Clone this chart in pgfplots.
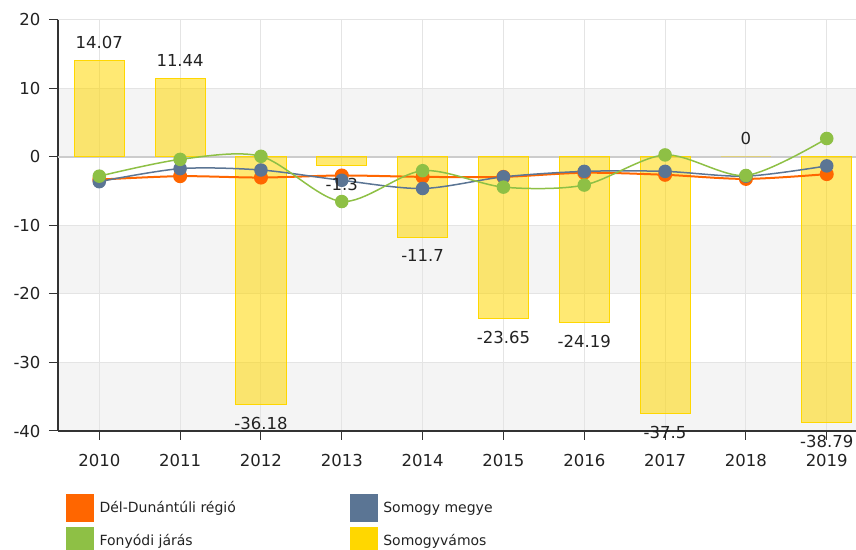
\documentclass[border=0pt]{standalone}
\usepackage{pgfplots}
\pgfplotsset{compat=1.18}
\usepackage{pgfplotstable}
\usepackage{fontspec}
\setmainfont{DejaVu Sans}
\definecolor{cOrange}{HTML}{FF6600}
\definecolor{cBlue}{HTML}{5B7594}
\definecolor{cGreen}{HTML}{8EC045}
\definecolor{cGold}{HTML}{FFD700}
\definecolor{cGrid}{HTML}{E4E4E4}
\definecolor{cBand}{HTML}{F4F4F4}
\definecolor{cAxis}{HTML}{333333}
\definecolor{cText}{HTML}{222222}
\definecolor{cZero}{HTML}{CCCCCC}

\pgfplotstableread{
x y label
0 14.07 14.07
1 11.44 11.44
2 -36.18 -36.18
3 -1.3 -1.3
4 -11.7 -11.7
5 -23.65 -23.65
6 -24.19 -24.19
7 -37.5 -37.5
8 0 0
9 -38.79 -38.79
}\barsdata

\begin{document}
\begin{tikzpicture}
\begin{axis}[
  set layers,
  scale only axis, width=798pt, height=411pt,
  xmin=-0.511, xmax=9.362, ymin=-40, ymax=20,
  clip=false,
  axis lines=left,
  axis line style={-, cAxis, line width=1.5pt},
  xtick={0,...,9},
  xticklabels={2010,2011,2012,2013,2014,2015,2016,2017,2018,2019},
  ytick={-40,-30,-20,-10,0,10,20},
  tick align=outside, major tick length=9pt,
  tick style={cAxis, line width=1pt},
  grid=major, major grid style={cGrid, line width=1pt},
  /pgf/number format/assume math mode=true,
  tick label style={font=\fontsize{16.5}{20}\selectfont, text=cText},
  xticklabel style={yshift=-11pt},
  yticklabel style={xshift=-5pt},
  legend columns=2,
  legend cell align=left,
  legend style={at={(0,0)}, anchor=north west, xshift=8pt, yshift=-63pt,
    draw=none, fill=none, inner sep=0pt,
    font=\fontsize{14}{17}\selectfont, text=cText, row sep=5pt,
    /tikz/every odd column/.append style={column sep=4pt},
    /tikz/every even column/.append style={column sep=112pt}},
]
\begin{pgfonlayer}{axis background}
\fill[cBand] (axis cs:-0.511,0) rectangle (axis cs:9.362,10);
\fill[cBand] (axis cs:-0.511,-20) rectangle (axis cs:9.362,-10);
\fill[cBand] (axis cs:-0.511,-40) rectangle (axis cs:9.362,-30);
\end{pgfonlayer}

\addlegendimage{legend image code/.code={\fill[cOrange] (0pt,-13.5pt) rectangle (27pt,13.5pt);}}
\addlegendentry{Dél-Dunántúli régió}
\addlegendimage{legend image code/.code={\fill[cBlue] (0pt,-13.5pt) rectangle (27pt,13.5pt);}}
\addlegendentry{Somogy megye}
\addlegendimage{legend image code/.code={\fill[cGreen] (0pt,-13.5pt) rectangle (27pt,13.5pt);}}
\addlegendentry{Fonyódi járás}
\addlegendimage{legend image code/.code={\fill[cGold] (0pt,-13.5pt) rectangle (27pt,13.5pt);}}
\addlegendentry{Somogyvámos}

\draw[cZero, line width=2pt] (axis cs:-0.511,0) -- (axis cs:9.362,0);

\addplot[ybar, bar width=0.62, fill=cGold, fill opacity=0.55, draw=cGold, line width=1pt,
  forget plot] table[x=x, y=y] {\barsdata};

\addplot[cOrange, line width=2pt, smooth, mark=*, mark size=6pt, mark options={fill=cOrange, draw=cOrange}, forget plot]
  coordinates {(0,-3.3) (1,-2.8) (2,-3.0) (3,-2.7) (4,-2.9) (5,-2.9) (6,-2.3) (7,-2.6) (8,-3.2) (9,-2.5)};
\addplot[cBlue, line width=1.5pt, smooth, mark=*, mark size=6pt, mark options={fill=cBlue, draw=cBlue}, forget plot]
  coordinates {(0,-3.6) (1,-1.7) (2,-1.9) (3,-3.4) (4,-4.6) (5,-2.9) (6,-2.1) (7,-2.1) (8,-2.8) (9,-1.3)};
\addplot[cGreen, line width=1.5pt, smooth, mark=*, mark size=6pt, mark options={fill=cGreen, draw=cGreen}, forget plot]
  coordinates {(0,-2.8) (1,-0.35) (2,0.1) (3,-6.5) (4,-2.0) (5,-4.4) (6,-4.1) (7,0.3) (8,-2.7) (9,2.7)};

% data labels of the bars, drawn on top of the lines
\addplot[draw=none, mark=none,
  point meta=explicit symbolic,
  visualization depends on={y \as \rawy},
  nodes near coords,
  every node near coord/.append style={font=\fontsize{16.5}{20}\selectfont, text=cText, inner ysep=12pt,
    anchor=\ifdim\rawy pt<0pt north\else south\fi},
  forget plot] table[x=x, y=y, meta=label] {\barsdata};
\end{axis}
\pgfresetboundingbox
\path[use as bounding box] ([xshift=-58pt,yshift=-119pt]current axis.south west) rectangle ([yshift=20pt]current axis.north east);
\end{tikzpicture}
\end{document}
